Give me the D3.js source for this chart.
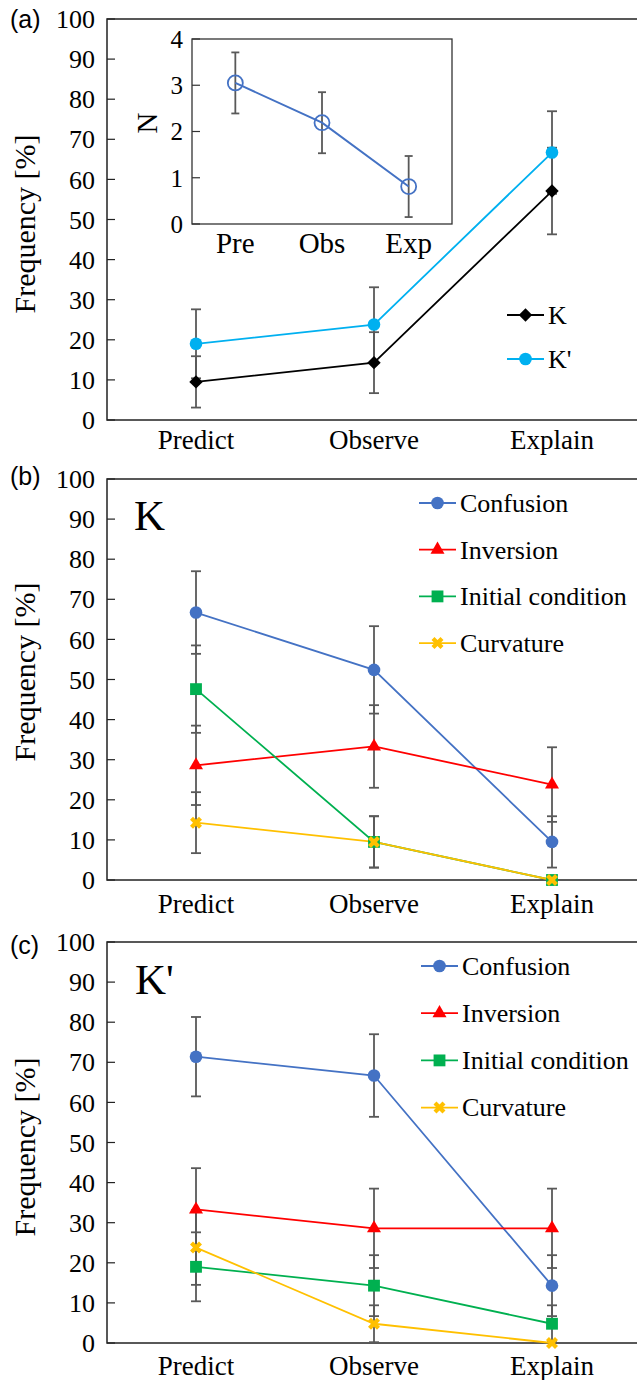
<!DOCTYPE html>
<html>
<head>
<meta charset="utf-8">
<script src="https://cdn.jsdelivr.net/npm/d3@7"></script>
<style>
  body { margin: 0; background: #fff; }
  text { font-family: "Liberation Serif", "Times New Roman", serif; fill: #000; }
</style>
</head>
<body>
<div id="chart"></div>
<script>
var W = 637, H = 1380;

// categories
var categories = ["Predict", "Observe", "Explain"];
var insetCats = ["Pre", "Obs", "Exp"];
var yTicks = [0, 10, 20, 30, 40, 50, 60, 70, 80, 90, 100];
var insetTicks = [0, 1, 2, 3, 4];

// panel (a)
var insetN = [3.05, 2.19, 0.81];
var insetErr = [0.66, 0.66, 0.66];
var kVals = [9.5, 14.3, 57.1];
var kErr = [6.4, 7.6, 10.8];
var kpVals = [19.0, 23.8, 66.7];
var kpErr = [8.6, 9.3, 10.3];

// panel (b) K
var confB = [66.7, 52.4, 9.5],   confBErr = [10.3, 10.9, 6.4];
var invB = [28.6, 33.3, 23.8],   invBErr = [9.9, 10.3, 9.3];
var initB = [47.6, 9.5, 0],      initBErr = [10.9, 6.4, 0];
var curvB = [14.3, 9.5, 0],      curvBErr = [7.6, 6.4, 0];

// panel (c) K'
var confC = [71.4, 66.7, 14.3],  confCErr = [9.9, 10.3, 7.6];
var invC = [33.3, 28.6, 28.6],   invCErr = [10.3, 9.9, 9.9];
var initC = [19.0, 14.3, 4.8],   initCErr = [8.6, 7.6, 4.6];
var curvC = [23.8, 4.8, 0],      curvCErr = [9.3, 4.6, 0];

var seriesNames = ["Confusion", "Inversion", "Initial condition", "Curvature"];
var seriesColors = ["#4472C4", "#FF0000", "#00B050", "#FFC000"];
var seriesSymbols = ["circle", "triangle", "square", "x"];

var errColor = "#595959";
var plotLeft = 107, plotRight = 641, plotH = 401;

var svg = d3.select("#chart").append("svg")
  .attr("width", W).attr("height", H)
  .style("display", "block");
svg.append("rect").attr("width", W).attr("height", H).attr("fill", "#fff");

function symbolPath(kind) {
  if (kind == "circle") return d3.symbol(d3.symbolCircle, 125)();
  if (kind == "triangle") return d3.symbol(d3.symbolTriangle, 85)();
  if (kind == "square") return d3.symbol(d3.symbolSquare, 140)();
  if (kind == "diamond") return d3.symbol(d3.symbolSquare, 90)();
  return d3.symbol(d3.symbolCross, 90)();
}
function symbolRot(kind) {
  return (kind == "diamond" || kind == "x") ? " rotate(45)" : "";
}

function drawPanel(top, label, labelY, ylabY, series, catY) {
  var y = d3.scaleLinear().domain([0, 100]).range([top + plotH, top]);
  var x = d3.scalePoint().domain(categories).range([plotLeft, plotRight]).padding(0.5);
  var g = svg.append("g");

  // frame
  g.append("rect")
    .attr("x", plotLeft).attr("y", top)
    .attr("width", plotRight - plotLeft).attr("height", plotH)
    .attr("fill", "none").attr("stroke", "#222").attr("stroke-width", 1.5);

  // y ticks (inward) and labels
  g.selectAll(".tk").data(yTicks).enter().append("line")
    .attr("x1", plotLeft).attr("x2", plotLeft + 8)
    .attr("y1", function(d) { return y(d); })
    .attr("y2", function(d) { return y(d); })
    .attr("stroke", "#222").attr("stroke-width", 1.2);
  g.selectAll(".tl").data(yTicks).enter().append("text")
    .attr("x", 95).attr("y", function(d) { return y(d); })
    .attr("dy", "0.35em").attr("text-anchor", "end")
    .style("font-size", "26px")
    .text(function(d) { return d; });

  // category labels
  g.selectAll(".cl").data(categories).enter().append("text")
    .attr("x", function(d) { return x(d); })
    .attr("y", top + plotH + catY)
    .attr("text-anchor", "middle")
    .style("font-size", "27px")
    .text(function(d) { return d; });

  // y axis title
  g.append("text")
    .attr("transform", "translate(35," + (top + ylabY) + ") rotate(-90)")
    .attr("text-anchor", "middle")
    .style("font-size", "30px")
    .text("Frequency [%]");

  // panel letter
  g.append("text")
    .attr("x", 10).attr("y", labelY)
    .style("font-family", "'Liberation Sans', Arial, sans-serif")
    .style("font-size", "25px")
    .text(label);

  // error bars
  series.forEach(function(s) {
    s.vals.forEach(function(v, i) {
      if (!s.err[i]) return;
      var cx = x(categories[i]);
      var y1 = y(v - s.err[i]), y2 = y(v + s.err[i]);
      g.append("line").attr("x1", cx).attr("x2", cx).attr("y1", y1).attr("y2", y2)
        .attr("stroke", errColor).attr("stroke-width", 1.8);
      [y1, y2].forEach(function(yy) {
        g.append("line").attr("x1", cx - 5).attr("x2", cx + 5).attr("y1", yy).attr("y2", yy)
          .attr("stroke", errColor).attr("stroke-width", 1.8);
      });
    });
  });

  // lines
  var line = d3.line()
    .x(function(d, i) { return x(categories[i]); })
    .y(function(d) { return y(d); });
  series.forEach(function(s) {
    g.append("path").attr("d", line(s.vals))
      .attr("fill", "none").attr("stroke", s.color).attr("stroke-width", 1.8);
  });

  // markers
  series.forEach(function(s) {
    s.vals.forEach(function(v, i) {
      g.append("path").attr("d", symbolPath(s.symbol))
        .attr("transform", "translate(" + x(categories[i]) + "," + y(v) + ")" + symbolRot(s.symbol))
        .attr("fill", s.color);
    });
  });
  return g;
}

function drawLegend(items, lx, ly, gap, fs) {
  var g = svg.append("g");
  items.forEach(function(s, i) {
    var yy = ly + i * gap;
    g.append("line").attr("x1", lx).attr("x2", lx + 37).attr("y1", yy).attr("y2", yy)
      .attr("stroke", s.color).attr("stroke-width", 1.8);
    g.append("path").attr("d", symbolPath(s.symbol))
      .attr("transform", "translate(" + (lx + 18.5) + "," + yy + ")" + symbolRot(s.symbol))
      .attr("fill", s.color);
    g.append("text").attr("x", lx + 41).attr("y", yy).attr("dy", "0.34em")
      .style("font-size", fs + "px").text(s.name);
  });
}

function makeSeries(vals, errs) {
  return seriesNames.map(function(n, i) {
    return { name: n, vals: vals[i], err: errs[i], color: seriesColors[i], symbol: seriesSymbols[i] };
  });
}

// ---- panel (a)
var seriesA = [
  { name: "K", vals: kVals, err: kErr, color: "#000", symbol: "diamond" },
  { name: "K'", vals: kpVals, err: kpErr, color: "#00B0F0", symbol: "circle" }
];
drawPanel(19, "(a)", 28, 205, seriesA, 29);
drawLegend(seriesA, 507, 315, 44, 26);

// inset
(function() {
  var ix0 = 192, ix1 = 452, iy0 = 39, iy1 = 224;
  var iy = d3.scaleLinear().domain([0, 4]).range([iy1, iy0]);
  var ixs = d3.scalePoint().domain(insetCats).range([ix0, ix1]).padding(0.5);
  var g = svg.append("g");
  g.append("rect").attr("x", ix0).attr("y", iy0).attr("width", ix1 - ix0).attr("height", iy1 - iy0)
    .attr("fill", "#fff").attr("stroke", "#333").attr("stroke-width", 1.3);
  g.selectAll(".itk").data(insetTicks).enter().append("line")
    .attr("x1", ix0).attr("x2", ix0 + 8)
    .attr("y1", function(d) { return iy(d); }).attr("y2", function(d) { return iy(d); })
    .attr("stroke", "#333").attr("stroke-width", 1.2);
  g.selectAll(".itl").data(insetTicks).enter().append("text")
    .attr("x", 183).attr("y", function(d) { return iy(d); })
    .attr("dy", "0.35em").attr("text-anchor", "end")
    .style("font-size", "25px").text(function(d) { return d; });
  g.selectAll(".icl").data(insetCats).enter().append("text")
    .attr("x", function(d) { return ixs(d); }).attr("y", 253)
    .attr("text-anchor", "middle").style("font-size", "29px")
    .text(function(d) { return d; });
  g.append("text").attr("transform", "translate(157,123) rotate(-90)")
    .attr("text-anchor", "middle").style("font-size", "29px").text("N");
  insetN.forEach(function(v, i) {
    var cx = ixs(insetCats[i]);
    var y1 = iy(v - insetErr[i]), y2 = iy(v + insetErr[i]);
    g.append("line").attr("x1", cx).attr("x2", cx).attr("y1", y1).attr("y2", y2)
      .attr("stroke", errColor).attr("stroke-width", 1.8);
    [y1, y2].forEach(function(yy) {
      g.append("line").attr("x1", cx - 4).attr("x2", cx + 4).attr("y1", yy).attr("y2", yy)
        .attr("stroke", errColor).attr("stroke-width", 1.8);
    });
  });
  var line = d3.line().x(function(d, i) { return ixs(insetCats[i]); }).y(function(d) { return iy(d); });
  g.append("path").attr("d", line(insetN)).attr("fill", "none")
    .attr("stroke", "#4472C4").attr("stroke-width", 2);
  g.selectAll(".ic").data(insetN).enter().append("circle")
    .attr("cx", function(d, i) { return ixs(insetCats[i]); })
    .attr("cy", function(d) { return iy(d); })
    .attr("r", 7.5).attr("fill", "none").attr("stroke", "#4472C4").attr("stroke-width", 1.8);
})();

// ---- panel (b)
var seriesB = makeSeries([confB, invB, initB, curvB], [confBErr, invBErr, initBErr, curvBErr]);
drawPanel(479, "(b)", 485, 193, seriesB, 33);
drawLegend(seriesB, 419, 503, 46.7, 26);
svg.append("text").attr("x", 134).attr("y", 530).style("font-size", "43px").text("K");

// ---- panel (c)
var seriesC = makeSeries([confC, invC, initC, curvC], [confCErr, invCErr, initCErr, curvCErr]);
drawPanel(942, "(c)", 954, 205, seriesC, 32);
drawLegend(seriesC, 421, 966, 47.2, 26);
svg.append("text").attr("x", 135).attr("y", 994).style("font-size", "43px").text("K'");
</script>
</body>
</html>
